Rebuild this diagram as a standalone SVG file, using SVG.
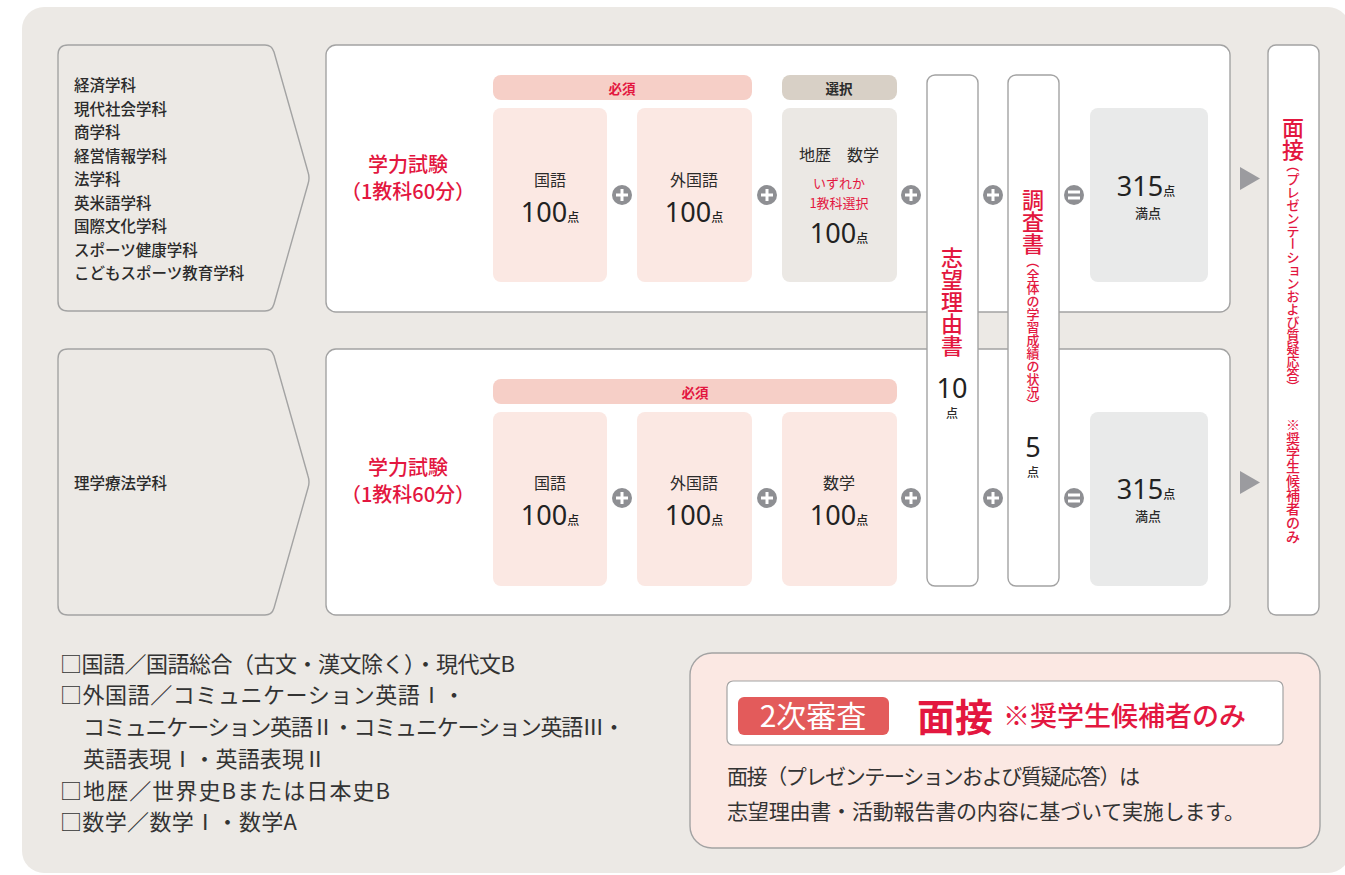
<svg xmlns="http://www.w3.org/2000/svg" width="1345" height="875" viewBox="0 0 1345 875">
<style>
text{font-family:"Noto Sans CJK JP","Noto Sans",sans-serif;fill:#2b2b2b}
.dept{font-size:15.5px;font-weight:500}
.red{fill:#E3173F}
.title{font-size:20px;font-weight:500;text-anchor:middle}
.subj{font-size:16px;text-anchor:middle}
.num{font-family:"Noto Sans","Open Sans",sans-serif;font-size:27px;text-anchor:middle;fill:#222}
.pt{font-family:"Noto Sans CJK JP",sans-serif;font-size:12px;font-weight:500}
.frame{fill:#fff;stroke:#a3a3a3;stroke-width:1.4}
.chev{fill:#ECE9E5;stroke:#a3a3a3;stroke-width:1.4}
.v{text-anchor:middle;dominant-baseline:central;fill:#E3173F;font-weight:500}
.vl{font-size:22px}
.vs{font-size:13px}
.vm{font-size:14px}
.note{font-size:22px;fill:#333}
.desc{font-size:21px;fill:#333}
</style>
<defs>
<g id="plus"><circle r="10" fill="#8E8F93"/><path d="M-6,0H6M0,-6V6" stroke="#fff" stroke-width="3"/></g>
<g id="eq"><circle r="10" fill="#8E8F93"/><path d="M-6,-3H6M-6,3H6" stroke="#fff" stroke-width="3"/></g>
<path id="tri" d="M0,0L20,11.5L0,23Z" fill="#9B9B9F"/>
</defs>
<rect x="22" y="7" width="1328" height="866" rx="22" fill="#ECE9E5"/>

<g id="dept1">
<path class="chev" d="M68,45H265Q272,45 274,52L308,172Q310,178 308,184L274,304Q272,311 265,311H68Q58,311 58,301V55Q58,45 68,45Z"/>
<text class="dept" x="74" y="91">経済学科</text>
<text class="dept" x="74" y="114.5">現代社会学科</text>
<text class="dept" x="74" y="138">商学科</text>
<text class="dept" x="74" y="161.5">経営情報学科</text>
<text class="dept" x="74" y="185">法学科</text>
<text class="dept" x="74" y="208.5">英米語学科</text>
<text class="dept" x="74" y="232">国際文化学科</text>
<text class="dept" x="74" y="255.5">スポーツ健康学科</text>
<text class="dept" x="74" y="279">こどもスポーツ教育学科</text>
</g>
<g id="dept2">
<path class="chev" d="M68,349H265Q272,349 274,356L308,476Q310,482 308,488L274,608Q272,615 265,615H68Q58,615 58,605V359Q58,349 68,349Z"/>
<text class="dept" x="74" y="489">理学療法学科</text>
</g>

<g id="row1">
<rect class="frame" x="326" y="45" width="904" height="267" rx="10"/>
<text class="title red" x="408" y="172">学力試験</text>
<text class="title red" x="408" y="199">（1教科60分）</text>
<rect x="493" y="75" width="259" height="25" rx="8" fill="#F6CFC7"/>
<text x="622" y="93.5" font-size="13.5" font-weight="700" text-anchor="middle" class="red">必須</text>
<rect x="782" y="75" width="115" height="25" rx="8" fill="#D8D0C6"/>
<text x="839" y="93.5" font-size="13.5" font-weight="700" text-anchor="middle">選択</text>
<rect x="493" y="108" width="114" height="174" rx="8" fill="#FBE8E3"/>
<text class="subj" x="550" y="186">国語</text>
<text class="num" x="550" y="222">100<tspan class="pt">点</tspan></text>
<rect x="637" y="108" width="115" height="174" rx="8" fill="#FBE8E3"/>
<text class="subj" x="694" y="186">外国語</text>
<text class="num" x="694" y="222">100<tspan class="pt">点</tspan></text>
<rect x="782" y="108" width="115" height="174" rx="8" fill="#EBE8E4"/>
<text class="subj" x="839" y="161">地歴　数学</text>
<text x="839" y="188" font-size="13" text-anchor="middle" class="red">いずれか</text>
<text x="839" y="208" font-size="13" text-anchor="middle" class="red">1教科選択</text>
<text class="num" x="839" y="243">100<tspan class="pt">点</tspan></text>
<rect x="1090" y="108" width="118" height="174" rx="8" fill="#E9EAEA"/>
<text class="num" x="1146" y="196">315<tspan class="pt">点</tspan></text>
<text x="1148" y="218" font-size="13" font-weight="500" text-anchor="middle">満点</text>
</g>

<g id="row2">
<rect class="frame" x="326" y="349" width="904" height="266" rx="10"/>
<text class="title red" x="408" y="475">学力試験</text>
<text class="title red" x="408" y="502">（1教科60分）</text>
<rect x="493" y="379" width="404" height="25" rx="8" fill="#F6CFC7"/>
<text x="695" y="397.5" font-size="13.5" font-weight="700" text-anchor="middle" class="red">必須</text>
<rect x="493" y="412" width="114" height="174" rx="8" fill="#FBE8E3"/>
<text class="subj" x="550" y="489">国語</text>
<text class="num" x="550" y="525">100<tspan class="pt">点</tspan></text>
<rect x="637" y="412" width="115" height="174" rx="8" fill="#FBE8E3"/>
<text class="subj" x="694" y="489">外国語</text>
<text class="num" x="694" y="525">100<tspan class="pt">点</tspan></text>
<rect x="782" y="412" width="115" height="174" rx="8" fill="#FBE8E3"/>
<text class="subj" x="839" y="489">数学</text>
<text class="num" x="839" y="525">100<tspan class="pt">点</tspan></text>
<rect x="1090" y="412" width="118" height="174" rx="8" fill="#E9EAEA"/>
<text class="num" x="1146" y="499">315<tspan class="pt">点</tspan></text>
<text x="1148" y="521" font-size="13" font-weight="500" text-anchor="middle">満点</text>
</g>

<g id="shibo">
<rect class="frame" x="927" y="75" width="51" height="511" rx="8"/>
<text class="v vl" x="952 952 952 952 952" y="256 278 300 322 344">志望理由書</text>
<text class="num" x="952" y="398" font-size="26">10</text>
<text class="pt" x="952" y="418" text-anchor="middle">点</text>
</g>

<g id="chosa">
<rect class="frame" x="1008" y="75" width="51" height="511" rx="8"/>
<text class="v vl" x="1033 1033 1033" y="198 220 242">調査書</text>
<text class="v vs" x="1033" y="261.5" transform="rotate(90 1033 261.5)">（</text>
<text class="v vs" x="1033 1033 1033 1033 1033 1033 1033 1033 1033 1033" y="274.5 287.5 300.5 313.5 326.5 339.5 352.5 365.5 378.5 391.5">全体の学習成績の状況</text>
<text class="v vs" x="1033" y="404.5" transform="rotate(90 1033 404.5)">）</text>
<text class="num" x="1033" y="457" font-size="26">5</text>
<text class="pt" x="1033" y="477" text-anchor="middle">点</text>
</g>

<g id="mensetsu">
<rect class="frame" x="1268" y="45" width="51" height="570" rx="8"/>
<text class="v vl" x="1293 1293" y="126 148">面接</text>
<text class="v vs" x="1293" y="165.5" transform="rotate(90 1293 165.5)">（</text>
<text class="v vs" x="1293 1293 1293 1293 1293" y="178.5 191.5 204.5 217.5 230.5">プレゼンテ</text>
<text class="v vs" x="1293" y="243.5" transform="rotate(90 1293 243.5)">ー</text>
<text class="v vs" x="1293 1294.5 1293 1293 1293 1293 1293 1293 1293 1293" y="256.5 268 282.5 295.5 308.5 321.5 334.5 347.5 360.5 373.5">ションおよび質疑応答</text>
<text class="v vs" x="1293" y="386.5" transform="rotate(90 1293 386.5)">）</text>
<text class="v vm" x="1293 1293 1293 1293 1293 1293 1293 1293 1293" y="424 438 452 466 480 494 508 522 536">※奨学生候補者のみ</text>
</g>

<g id="connectors">
<use href="#plus" x="622" y="195"/>
<use href="#plus" x="767" y="195"/>
<use href="#plus" x="911" y="195"/>
<use href="#plus" x="993" y="195"/>
<use href="#eq" x="1074" y="195"/>
<use href="#tri" x="1240" y="167"/>
<use href="#plus" x="622" y="498"/>
<use href="#plus" x="767" y="498"/>
<use href="#plus" x="911" y="498"/>
<use href="#plus" x="993" y="498"/>
<use href="#eq" x="1074" y="498"/>
<use href="#tri" x="1240" y="471"/>
</g>

<g id="notes">
<text class="note" x="60" y="672" textLength="455" lengthAdjust="spacing">□国語／国語総合（古文・漢文除く）・現代文B</text>
<text class="note" x="60" y="703" textLength="405" lengthAdjust="spacing">□外国語／コミュニケーション英語Ⅰ・</text>
<text class="note" x="83" y="735" textLength="542" lengthAdjust="spacing">コミュニケーション英語Ⅱ・コミュニケーション英語Ⅲ・</text>
<text class="note" x="83" y="767" textLength="243" lengthAdjust="spacing">英語表現Ⅰ・英語表現Ⅱ</text>
<text class="note" x="60" y="799" textLength="330" lengthAdjust="spacing">□地歴／世界史Bまたは日本史B</text>
<text class="note" x="60" y="830" textLength="237" lengthAdjust="spacing">□数学／数学Ⅰ・数学A</text>
</g>

<g id="interview">
<rect x="690" y="653" width="630" height="195" rx="22" fill="#FBE8E3" stroke="#a3a3a3" stroke-width="1.4"/>
<rect x="727" y="681" width="556" height="64" rx="6" fill="#fff" stroke="#a3a3a3" stroke-width="1.2"/>
<rect x="738" y="697" width="151" height="38" rx="6" fill="#E35B5B"/>
<text x="813" y="727" font-size="30" text-anchor="middle" style="fill:#fff">2次審査</text>
<text x="917" y="731" font-size="38" font-weight="700" class="red">面接</text>
<text x="1003" y="726" font-size="27" font-weight="500" class="red">※奨学生候補者のみ</text>
<text class="desc" x="727" y="784" textLength="413" lengthAdjust="spacing">面接（プレゼンテーションおよび質疑応答）は</text>
<text class="desc" x="727" y="819" textLength="518" lengthAdjust="spacing">志望理由書・活動報告書の内容に基づいて実施します。</text>
</g>
</svg>
